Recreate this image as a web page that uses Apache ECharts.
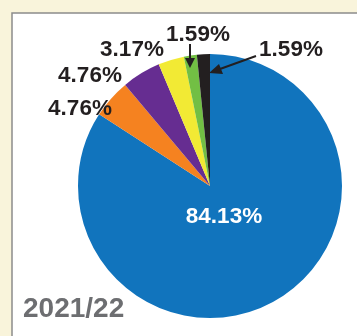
<!DOCTYPE html>
<html><head><meta charset="utf-8">
<script src="https://cdn.jsdelivr.net/npm/echarts@6/dist/echarts.min.js"></script>
<style>html,body{margin:0;padding:0;background:#f9f4db;}#c{width:357px;height:336px;}</style>
</head><body><div id="c"></div>
<script>
const categories = ['A', 'B', 'C', 'D', 'E', 'F'];
const values = [84.13, 4.76, 4.76, 3.17, 1.59, 1.59];
const colors = ['#1174bd', '#f58220', '#662d91', '#f2ea34', '#72bf44', '#231f20'];
const yearLabel = '2021/22';

// label anchor positions (layout only)
const labelPos = [[224, 217], [80, 109], [90, 76], [132, 50], [198, 35], [291, 50]];

const chart = echarts.init(document.getElementById('c'));
chart.setOption({
  backgroundColor: '#f9f4db',
  animation: false,
  graphic: [
    { type: 'rect', shape: { x: 12, y: 13, width: 360, height: 340 }, style: { fill: '#ffffff', stroke: '#8c8c8c', lineWidth: 1.5 }, z: -10 },
    { type: 'text', left: 23, top: 295, style: { text: yearLabel, fill: '#6d6e71', font: 'bold 28px "Liberation Sans", Arial, sans-serif' }, z: 10 },
    { type: 'line', shape: { x1: 190, y1: 44, x2: 190, y2: 60 }, style: { stroke: '#231f20', lineWidth: 2 }, z: 10 },
    { type: 'polygon', shape: { points: [[185, 58], [195, 58], [190, 68]] }, style: { fill: '#231f20' }, z: 10 },
    { type: 'line', shape: { x1: 256, y1: 56, x2: 220, y2: 69 }, style: { stroke: '#231f20', lineWidth: 2 }, z: 10 },
    { type: 'polygon', shape: { points: [[209, 73], [219, 64], [223, 74]] }, style: { fill: '#231f20' }, z: 10 }
  ],
  series: [{
    type: 'pie',
    center: [210, 186],
    radius: 132,
    startAngle: 90,
    clockwise: true,
    avoidLabelOverlap: false,
    data: categories.map((c, i) => ({ name: c, value: values[i], itemStyle: { color: colors[i] }, label: i === 0 ? { color: '#ffffff' } : {} })),
    label: {
      show: true,
      position: 'outside',
      overflow: 'none',
      width: 200,
      formatter: p => values[p.dataIndex].toFixed(2) + '%',
      fontFamily: '"Liberation Sans", Arial, sans-serif',
      fontWeight: 'bold',
      fontSize: 22.5,
      color: '#231f20'
    },
    labelLine: { show: false },
    labelLayout: p => ({ x: labelPos[p.dataIndex][0], y: labelPos[p.dataIndex][1], align: 'center', verticalAlign: 'middle' }),
    emphasis: { disabled: true }
  }]
});
</script></body></html>
